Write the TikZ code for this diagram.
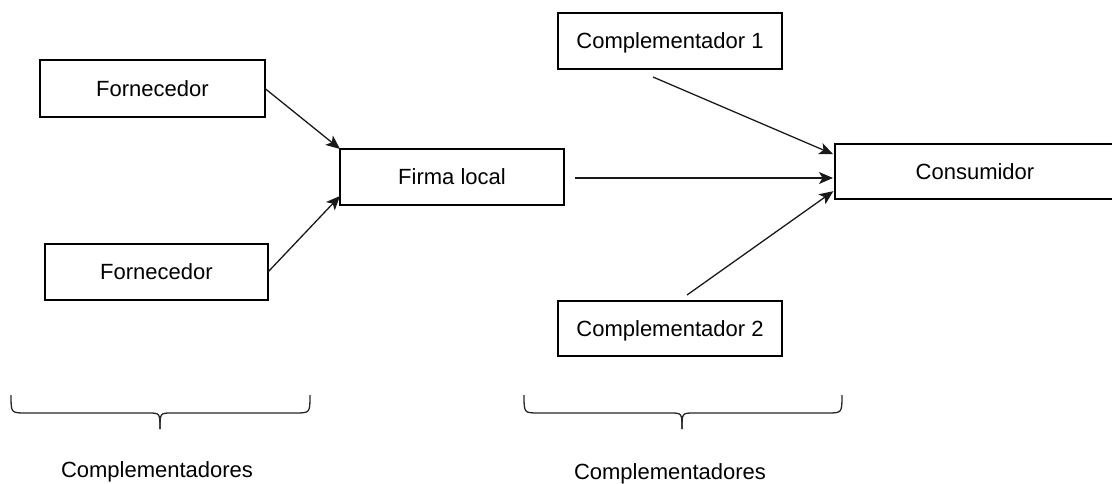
\documentclass[tikz,border=0pt]{standalone}
\usepackage{fontspec}
\setmainfont{Liberation Sans}
\usetikzlibrary{arrows.meta}
\begin{document}
\begin{tikzpicture}[x=1pt,y=-1pt,
  box/.style={draw=black, line width=1.5pt, rectangle, inner sep=0pt, outer sep=0pt,
    font=\fontsize{22}{26}\selectfont, text height=15.8pt, text depth=0pt},
  arr/.style={draw=black!90, line width=1.3pt, -{Stealth[length=14pt,width=12pt,inset=3.5pt]}},
  brace/.style={draw=black!85, line width=1.3pt},
  lbl/.style={font=\fontsize{22}{26}\selectfont, inner sep=0pt, anchor=base}]
\useasboundingbox (0,0) rectangle (1112,484);
\clip (0,0) rectangle (1112,484);

% boxes
\node[box, minimum width=225pt, minimum height=57pt] (f1) at (152.5,88.5) {Fornecedor};
\node[box, minimum width=223pt, minimum height=56pt] (f2) at (156.5,272) {Fornecedor};
\node[box, minimum width=224pt, minimum height=56pt] (firma) at (452,177) {Firma local};
\node[box, minimum width=224pt, minimum height=56pt] (c1) at (670,41) {Complementador 1};
\node[box, minimum width=280pt, minimum height=55pt] (cons) at (975,171.5) {Consumidor};
\node[box, minimum width=224pt, minimum height=55pt] (c2) at (670,328.5) {Complementador 2};

% connectors
\draw[arr] (f1.east) -- (firma.north west);
\draw[arr] (f2.east) -- ([yshift=9pt]firma.south west);
\draw[arr, shorten <=11pt, shorten >=2pt] ([yshift=-1pt]firma.east) -- ([yshift=-1pt]cons.west |- firma.east);
\draw[arr, shorten >=2pt] ([xshift=-17pt,yshift=-8pt]c1.south) -- ([yshift=16.5pt]cons.west);
\draw[arr, shorten >=2pt] ([xshift=17pt,yshift=6pt]c2.north) -- ([yshift=-18.5pt]cons.west);

% braces
\draw[brace] (11,395) .. controls (11,413) .. (26,413) -- (148,413) .. controls (160,413) .. (160,429);
\draw[brace] (310,395) .. controls (310,413) .. (295,413) -- (172,413) .. controls (160,413) .. (160,429);
\draw[brace] (524,395) .. controls (524,413) .. (539,413) -- (670,413) .. controls (682,413) .. (682,429);
\draw[brace] (842,395) .. controls (842,413) .. (827,413) -- (694,413) .. controls (682,413) .. (682,429);

% labels
\node[lbl] (lblL) at (157,477) {Complementadores};
\node[lbl] (lblR) at (670,479) {Complementadores};
\end{tikzpicture}
\end{document}
